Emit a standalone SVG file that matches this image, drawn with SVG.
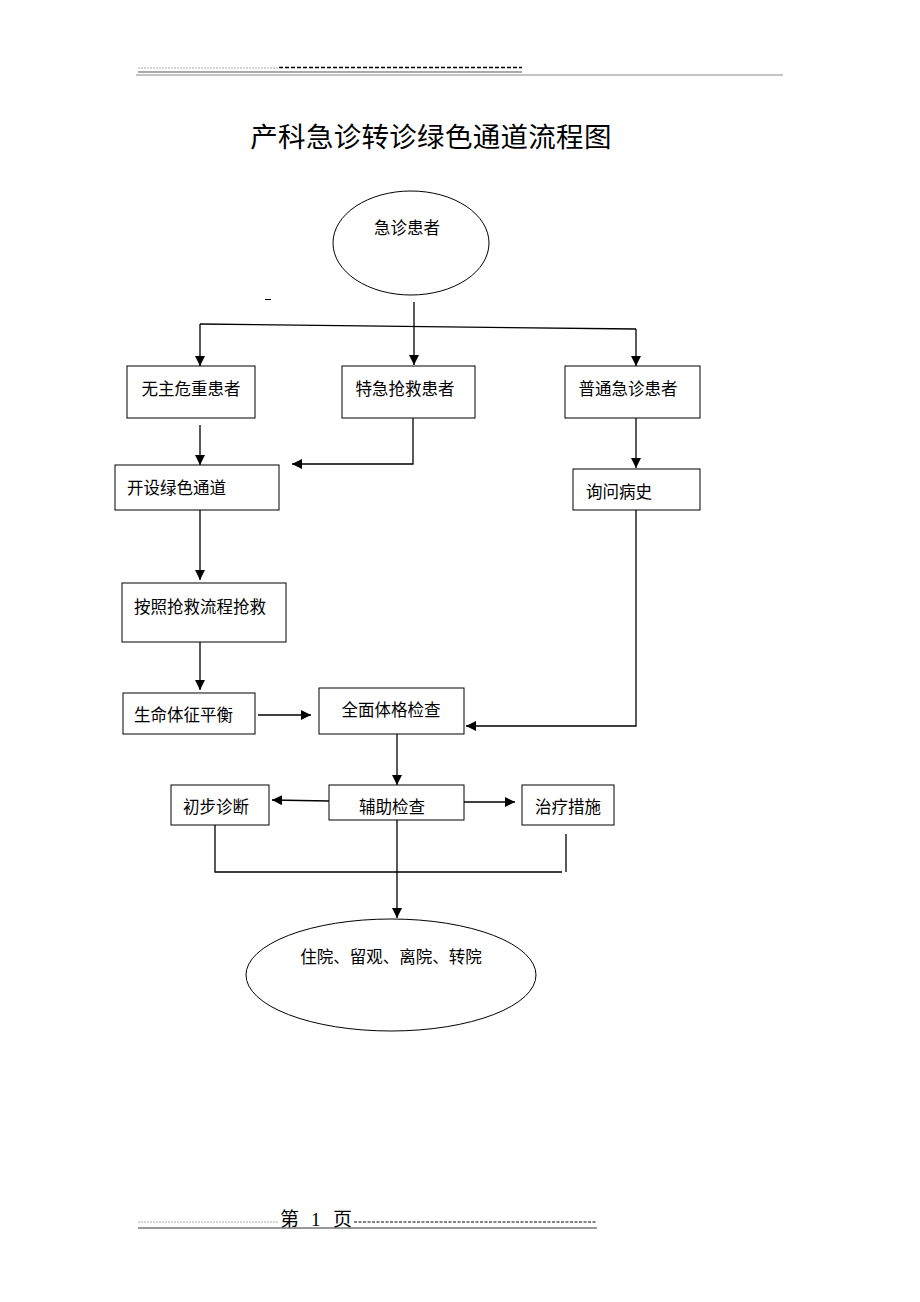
<svg xmlns="http://www.w3.org/2000/svg" width="920" height="1302" viewBox="0 0 920 1302">
<defs>
<marker id="arr" viewBox="0 0 10 10" refX="10" refY="5" markerWidth="10" markerHeight="10" markerUnits="userSpaceOnUse" orient="auto">
<path d="M0,0 L10,5 L0,10 z" fill="#000"/>
</marker>
<style>
.box{fill:#fff;stroke:#000;stroke-width:1}
.t{font-family:"Noto Sans CJK SC","Noto Sans",sans-serif;font-size:16.5px;fill:#000}
.c{fill:none;stroke:#000;stroke-width:1.3}
.a{fill:none;stroke:#000;stroke-width:1.3;marker-end:url(#arr)}
.f{font-family:"Liberation Serif","Noto Sans CJK SC",serif;font-size:19px;fill:#000}
</style>
</defs>
<rect width="920" height="1302" fill="#fff"/>
<g id="header">
<line x1="138" y1="68" x2="278" y2="68" stroke="#aaa" stroke-width="1" stroke-dasharray="2,1"/>
<line x1="279" y1="67.5" x2="522" y2="67.5" stroke="#000" stroke-width="1.5" stroke-dasharray="4,2"/>
<line x1="138" y1="72" x2="522" y2="72" stroke="#555" stroke-width="1"/>
<line x1="136" y1="75" x2="783" y2="75" stroke="#888" stroke-width="1"/>
</g>
<text id="title" x="431" y="147" text-anchor="middle" font-family="Noto Sans CJK SC,sans-serif" font-size="27.5" letter-spacing="0.3" fill="#000">产科急诊转诊绿色通道流程图</text>
<line x1="265" y1="299.5" x2="271" y2="299.5" stroke="#000" stroke-width="1"/>
<g id="connectors">
<line class="a" x1="414" y1="302" x2="414" y2="365"/>
<line class="c" x1="200" y1="324" x2="636" y2="329"/>
<line class="a" x1="200" y1="324" x2="200" y2="366"/>
<line class="a" x1="636" y1="329" x2="636" y2="366"/>
<line class="a" x1="200" y1="425" x2="200" y2="465"/>
<polyline class="a" points="413,418 413,464 292,464"/>
<line class="a" x1="636" y1="418" x2="636" y2="468"/>
<polyline class="a" points="636,510 636,726 466,726"/>
<line class="a" x1="200" y1="510" x2="200" y2="580"/>
<line class="a" x1="200" y1="642" x2="200" y2="690"/>
<line class="a" x1="258" y1="715" x2="311" y2="715"/>
<line class="a" x1="397" y1="734" x2="397" y2="785"/>
<line class="a" x1="329" y1="801" x2="272" y2="800"/>
<line class="a" x1="464" y1="802" x2="515" y2="802"/>
<line class="a" x1="397" y1="820" x2="397" y2="918"/>
<polyline class="c" points="215,825 215,872 562,872"/>
<line class="c" x1="566" y1="834" x2="566" y2="872"/>
</g>
<g id="n_start"><ellipse class="box" cx="411" cy="243" rx="78" ry="52"/><text class="t" x="407" y="234" text-anchor="middle">急诊患者</text></g>
<g id="n_wuzhu"><rect class="box" x="127" y="366" width="128" height="52"/><text class="t" x="191" y="395" text-anchor="middle">无主危重患者</text></g>
<g id="n_teji"><rect class="box" x="342" y="366" width="133" height="52"/><text class="t" x="405" y="395" text-anchor="middle">特急抢救患者</text></g>
<g id="n_putong"><rect class="box" x="565" y="366" width="135" height="52"/><text class="t" x="628" y="395" text-anchor="middle">普通急诊患者</text></g>
<g id="n_kaishe"><rect class="box" x="115" y="465" width="164" height="45"/><text class="t" x="127" y="494">开设绿色通道</text></g>
<g id="n_xunwen"><rect class="box" x="573" y="469" width="127" height="41"/><text class="t" x="586" y="498">询问病史</text></g>
<g id="n_anzhao"><rect class="box" x="122" y="583" width="164" height="59"/><text class="t" x="134" y="613">按照抢救流程抢救</text></g>
<g id="n_shengming"><rect class="box" x="123" y="693" width="132" height="41"/><text class="t" x="134" y="721">生命体征平衡</text></g>
<g id="n_quanmian"><rect class="box" x="319" y="688" width="145" height="46"/><text class="t" x="391" y="716" text-anchor="middle">全面体格检查</text></g>
<g id="n_chubu"><rect class="box" x="171" y="785" width="98" height="40"/><text class="t" x="216" y="813" text-anchor="middle">初步诊断</text></g>
<g id="n_fuzhu"><rect class="box" x="329" y="785" width="135" height="35"/><text class="t" x="392" y="813" text-anchor="middle">辅助检查</text></g>
<g id="n_zhiliao"><rect class="box" x="522" y="785" width="92" height="40"/><text class="t" x="568" y="813" text-anchor="middle">治疗措施</text></g>
<g id="n_end"><ellipse class="box" cx="391" cy="975" rx="145" ry="56"/><text class="t" x="391" y="963" text-anchor="middle">住院、留观、离院、转院</text></g>
<g id="footer">
<line x1="138" y1="1222" x2="279" y2="1222" stroke="#aaa" stroke-width="1" stroke-dasharray="2,1"/>
<text class="f" x="280" y="1226">第</text>
<text class="f" x="311" y="1226">1</text>
<text class="f" x="333" y="1226">页</text>
<line x1="354" y1="1222" x2="597" y2="1222" stroke="#000" stroke-width="1" stroke-dasharray="3,1.5"/>
<line x1="138" y1="1228" x2="597" y2="1228" stroke="#333" stroke-width="1"/>
</g>
</svg>
